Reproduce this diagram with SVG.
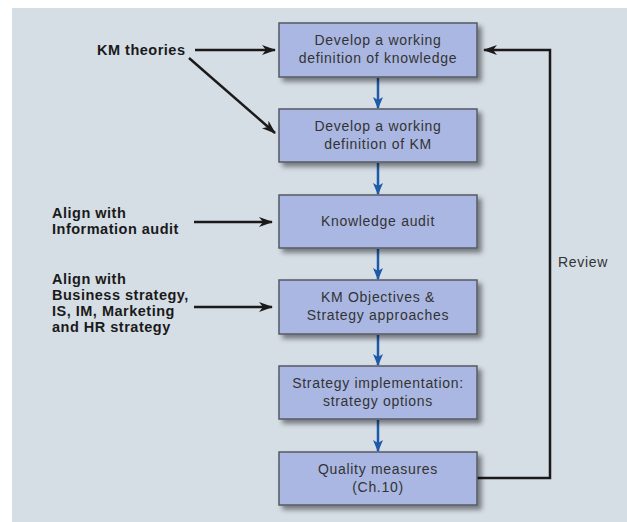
<svg xmlns="http://www.w3.org/2000/svg" width="627" height="522" viewBox="0 0 627 522">
<style>
.box{fill:#aab7e2;stroke:#555a63;stroke-width:1.5}
.bt{font-family:"Liberation Sans",Arial,sans-serif;font-size:14px;letter-spacing:0.7px;fill:#333;text-anchor:middle}
.lb{font-family:"Liberation Sans",Arial,sans-serif;font-size:14.5px;letter-spacing:0.5px;font-weight:bold;fill:#1a1a1a}
.blk{stroke:#1a1a1a;stroke-width:2.5;fill:none}
.blu{stroke:#1d5aa8;stroke-width:2.5;fill:none}
</style>
<defs>
<filter id="sh" x="-10%" y="-20%" width="130%" height="160%">
<feDropShadow dx="4" dy="4" stdDeviation="2.5" flood-color="#000" flood-opacity="0.45"/>
</filter>
<marker id="ab" viewBox="0 0 14 10" refX="13" refY="5" markerWidth="14" markerHeight="10" markerUnits="userSpaceOnUse" orient="auto">
<path d="M0,0 L14,5 L0,10 L4,5 z" fill="#1a1a1a"/>
</marker>
<marker id="au" viewBox="0 0 12 10" refX="11" refY="5" markerWidth="12" markerHeight="10" markerUnits="userSpaceOnUse" orient="auto">
<path d="M0,0 L12,5 L0,10 L3,5 z" fill="#1d5aa8"/>
</marker>
</defs>
<rect x="0" y="0" width="627" height="522" fill="#ffffff"/>
<rect x="12" y="8" width="615" height="514" fill="#d5dde5"/>

<g id="connectors">
<line class="blk" x1="195" y1="50" x2="275" y2="50" marker-end="url(#ab)"/>
<line class="blk" x1="189" y1="58" x2="275" y2="133" marker-end="url(#ab)"/>
<line class="blk" x1="194" y1="222" x2="272" y2="222" marker-end="url(#ab)"/>
<line class="blk" x1="194" y1="307" x2="272" y2="307" marker-end="url(#ab)"/>
<polyline class="blk" points="477,478 550,478 550,50 484,50" marker-end="url(#ab)"/>
<line class="blu" x1="378" y1="78" x2="378" y2="108" marker-end="url(#au)"/>
<line class="blu" x1="378" y1="163" x2="378" y2="194" marker-end="url(#au)"/>
<line class="blu" x1="378" y1="249" x2="378" y2="279" marker-end="url(#au)"/>
<line class="blu" x1="378" y1="335" x2="378" y2="365" marker-end="url(#au)"/>
<line class="blu" x1="378" y1="420" x2="378" y2="451" marker-end="url(#au)"/>
</g>

<g id="n1"><rect class="box" x="279" y="23" width="198" height="54" filter="url(#sh)"/>
<text class="bt" x="378" y="45">Develop a working</text><text class="bt" x="378" y="63">definition of knowledge</text></g>
<g id="n2"><rect class="box" x="279" y="109" width="198" height="53" filter="url(#sh)"/>
<text class="bt" x="378" y="131">Develop a working</text><text class="bt" x="378" y="149">definition of KM</text></g>
<g id="n3"><rect class="box" x="279" y="195" width="198" height="53" filter="url(#sh)"/>
<text class="bt" x="378" y="226">Knowledge audit</text></g>
<g id="n4"><rect class="box" x="279" y="280" width="198" height="54" filter="url(#sh)"/>
<text class="bt" x="378" y="302">KM Objectives &amp;</text><text class="bt" x="378" y="320">Strategy approaches</text></g>
<g id="n5"><rect class="box" x="279" y="366" width="198" height="53" filter="url(#sh)"/>
<text class="bt" x="378" y="388">Strategy implementation:</text><text class="bt" x="378" y="406">strategy options</text></g>
<g id="n6"><rect class="box" x="279" y="452" width="198" height="53" filter="url(#sh)"/>
<text class="bt" x="378" y="474">Quality measures</text><text class="bt" x="378" y="492">(Ch.10)</text></g>

<g id="l1"><text class="lb" x="97" y="55">KM theories</text></g>
<g id="l2"><text class="lb" x="52" y="218">Align with</text><text class="lb" x="52" y="234">Information audit</text></g>
<g id="l3"><text class="lb" x="52" y="284">Align with</text><text class="lb" x="52" y="300">Business strategy,</text><text class="lb" x="52" y="316">IS, IM, Marketing</text><text class="lb" x="52" y="332">and HR strategy</text></g>
<g id="l4"><text class="bt" x="583" y="267">Review</text></g>
</svg>
